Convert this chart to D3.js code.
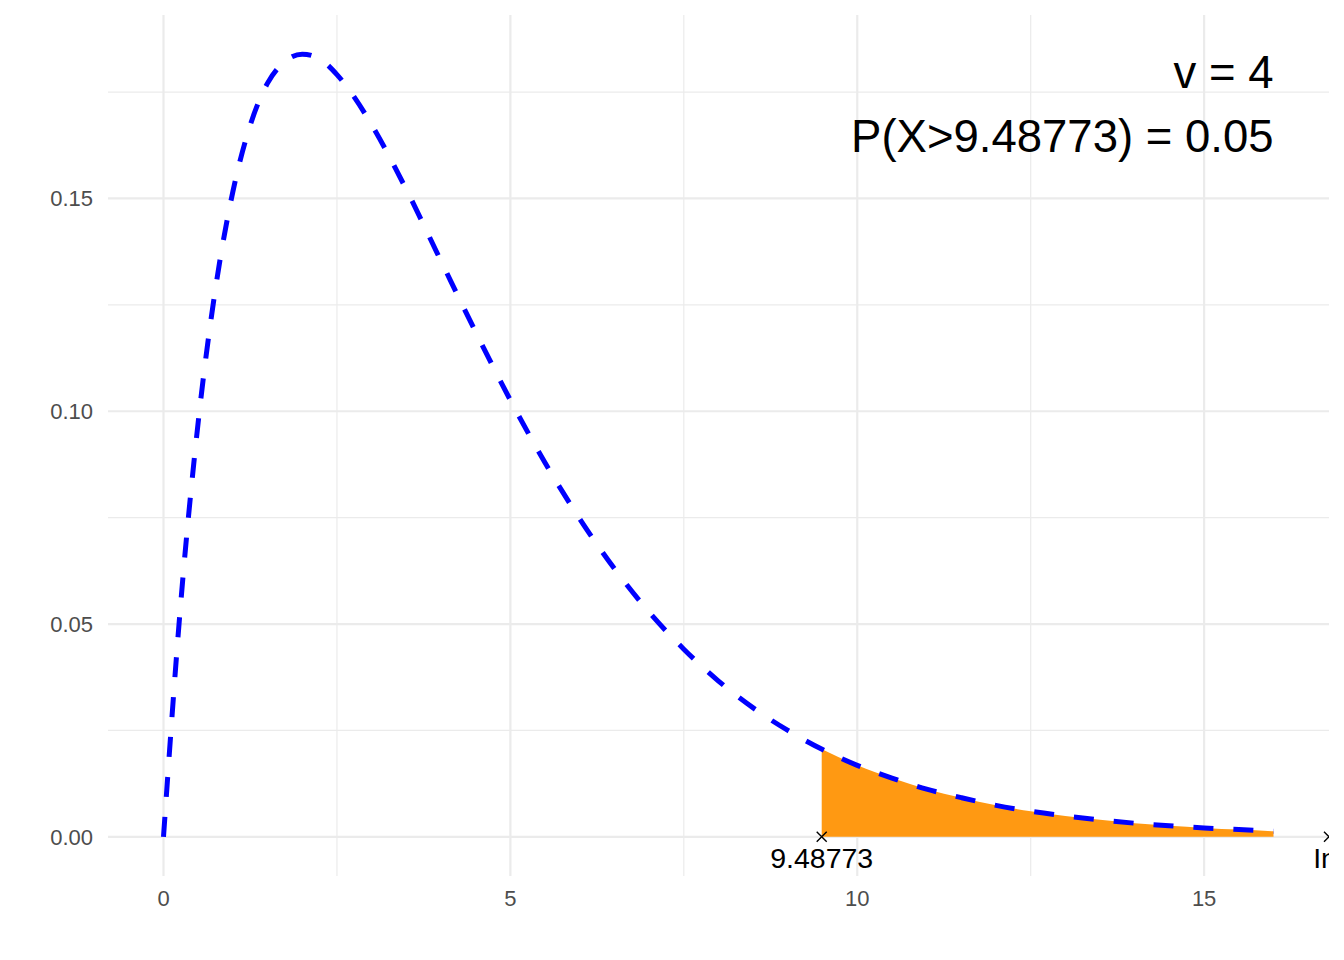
<!DOCTYPE html>
<html><head><meta charset="utf-8">
<script src="https://cdn.jsdelivr.net/npm/d3@7"></script>
<style>body{margin:0;background:#fff}svg{display:block;font-family:"Liberation Sans",Arial,sans-serif}</style>
</head><body>
<svg id="c" width="1344" height="960"></svg>
<script>
// Density curve (chi-square, v = 4)
const xs = [0,0.25,0.5,0.75,1,1.25,1.5,1.75,2,2.25,2.5,2.75,3,3.5,4,4.5,5,5.5,6,6.5,7,7.5,8,8.5,9,9.5,10,10.5,11,11.5,12,12.5,13,13.5,14,14.5,15,15.5,16];
const dens = [0,0.0552,0.0974,0.1289,0.1516,0.1672,0.1771,0.1822,0.1839,0.1828,0.1791,0.1738,0.1673,0.1521,0.1353,0.1186,0.1026,0.0879,0.0747,0.0630,0.0528,0.0441,0.0366,0.0303,0.0250,0.0205,0.0168,0.0138,0.0112,0.0092,0.0074,0.0060,0.0049,0.0040,0.0032,0.0026,0.0021,0.0017,0.0013];
const critX = 9.48773;
const critDens = 0.0206;
const xTicks = [0,5,10,15];
const xMinor = [2.5,7.5,12.5];
const yTicks = [0,0.05,0.10,0.15];
const yMinor = [0.025,0.075,0.125,0.175];
const annoLines = ["v = 4", "P(X>9.48773) = 0.05"];
const pointLabels = ["9.48773", "Inf"];

const svg = d3.select("#c");
const L=108, R=1329, T=15, B=876;
const x = d3.scaleLinear().domain([-0.8,16.8]).range([L,R]);
const y = d3.scaleLinear().domain([-0.0092,0.1931]).range([B,T]);

svg.append("defs").append("clipPath").attr("id","pc")
  .append("rect").attr("x",L).attr("y",T).attr("width",R-L).attr("height",B-T);

const g = svg.append("g");
// grid
g.selectAll(".xm").data(xMinor).join("line").attr("x1",d=>x(d)).attr("x2",d=>x(d)).attr("y1",T).attr("y2",B).attr("stroke","#EBEBEB").attr("stroke-width",1.2);
g.selectAll(".ym").data(yMinor).join("line").attr("y1",d=>y(d)).attr("y2",d=>y(d)).attr("x1",L).attr("x2",R).attr("stroke","#EBEBEB").attr("stroke-width",1.2);
g.selectAll(".xM").data(xTicks).join("line").attr("x1",d=>x(d)).attr("x2",d=>x(d)).attr("y1",T).attr("y2",B).attr("stroke","#EBEBEB").attr("stroke-width",2.2);
g.selectAll(".yM").data(yTicks).join("line").attr("y1",d=>y(d)).attr("y2",d=>y(d)).attr("x1",L).attr("x2",R).attr("stroke","#EBEBEB").attr("stroke-width",2.2);

// tick labels
svg.selectAll(".xl").data(xTicks).join("text").attr("x",d=>x(d)).attr("y",906).attr("text-anchor","middle")
  .attr("font-size",22).attr("fill","#4D4D4D").text(d=>d3.format("d")(d));
svg.selectAll(".yl").data(yTicks).join("text").attr("x",93).attr("y",d=>y(d)+8).attr("text-anchor","end")
  .attr("font-size",22).attr("fill","#4D4D4D").text(d=>d3.format(".2f")(d));

const pts = xs.map((v,i)=>({x:v,y:dens[i]}));
const tail = [{x:critX,y:critDens}].concat(pts.filter(p=>p.x>critX));

const pg = svg.append("g").attr("clip-path","url(#pc)");
pg.append("path").datum(tail)
  .attr("d", d3.area().x(d=>x(d.x)).y0(y(0)).y1(d=>y(d.y)).curve(d3.curveMonotoneX))
  .attr("fill","#FF9912");
pg.append("path").datum(pts)
  .attr("d", d3.line().x(d=>x(d.x)).y(d=>y(d.y)).curve(d3.curveMonotoneX))
  .attr("fill","none").attr("stroke","#0000FF").attr("stroke-width",5).attr("stroke-dasharray","20,20");

// markers
const mk = [critX, 16.8];
mk.forEach((v,i)=>{
  const cx=x(v), cy=y(0), s=5;
  pg.append("path").attr("d",`M${cx-s},${cy-s}L${cx+s},${cy+s}M${cx-s},${cy+s}L${cx+s},${cy-s}`)
    .attr("stroke","#000").attr("stroke-width",1.4);
  pg.append("text").attr("x",cx).attr("y",cy+31).attr("text-anchor","middle").attr("font-size",28.5)
    .attr("fill","#000").text(pointLabels[i]);
});

// annotation
annoLines.forEach((t,i)=>{
  svg.append("text").attr("x",x(16)).attr("y",88+i*64).attr("text-anchor","end").attr("font-size",45.5)
    .attr("fill","#000").text(t);
});
</script>
</body></html>
